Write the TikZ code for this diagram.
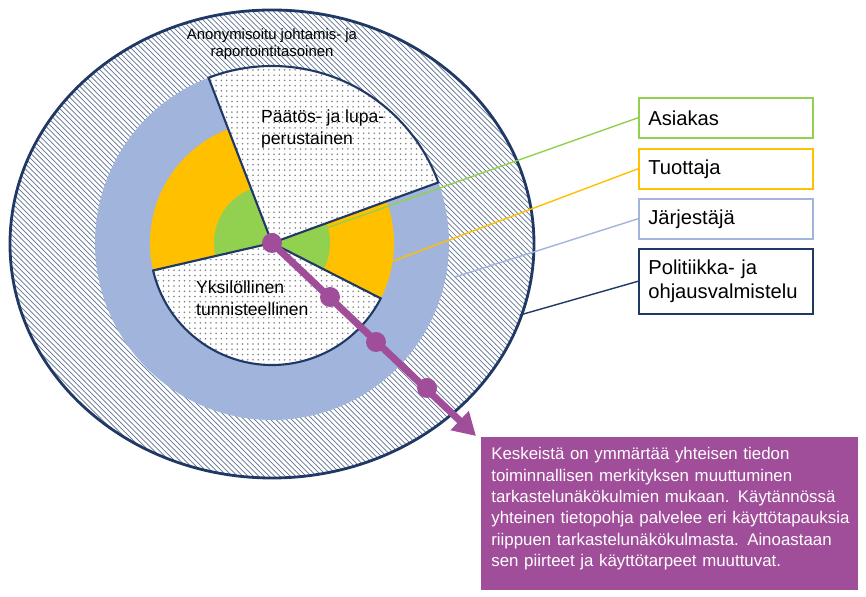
\documentclass[tikz,border=0pt]{standalone}
\usepackage{fontspec}
\setmainfont{Liberation Sans}
\usetikzlibrary{patterns,positioning,calc,arrows.meta}
\definecolor{navy}{HTML}{1F3864}
\definecolor{ringblue}{HTML}{A0B4DC}
\definecolor{gold}{HTML}{FFC000}
\definecolor{leafgreen}{HTML}{92D050}
\definecolor{plum}{HTML}{A04D9A}
\tikzset{
  legendbox/.style={draw, line width=0.9pt, fill=white, minimum width=3.48cm, minimum height=0.8cm,
    anchor=north west, align=left, text width=3.1cm, font=\fontsize{11.5}{14}\selectfont},
  dotsector/.style={draw=navy, line width=1.2pt, preaction={fill=white}, pattern=dots, pattern color=gray},
  stop/.style={circle, fill=plum, inner sep=0pt, minimum size=0.4cm},
}
\begin{document}
\begin{tikzpicture}[x=0.02cm,y=-0.02cm]
\useasboundingbox (0,0) rectangle (866,597);

% outer level
\draw[navy, line width=1.6pt, preaction={fill=white}, pattern=north west lines, pattern color=navy!70]
  (272,244) ellipse (262 and 234);

\begin{scope}[shift={(272,243)},x=0.02cm,y=0.02cm]
% rings
\fill[ringblue] (0,0) circle (177);
\fill[gold] (0,0) circle (122);
\fill[leafgreen] (0,0) circle (58);
% sectors
\draw[dotsector] (0,0) -- (111:177) arc (111:20:177) -- cycle;
\draw[dotsector] (0,0) -- (193:122) arc (193:333:122) -- cycle;
% anchor points for the legend lines
\coordinate (pgreen) at (35,8);
\coordinate (pgold) at (116,-20);
\coordinate (pblue) at (183,-34);
\coordinate (pnavy) at (248,-72);
\end{scope}

% labels
\node[align=center, font=\fontsize{8.5}{9.5}\selectfont] (toplabel) at (272,44) {Anonymisoitu johtamis- ja\\raportointitasoinen};
\node[align=left, anchor=north west, font=\fontsize{10}{12}\selectfont] (paatos) at (255,104) {Päätös- ja lupa-\\perustainen};
\node[align=left, anchor=north west, font=\fontsize{10}{12}\selectfont] (yksil) at (190,275) {Yksilöllinen\\tunnisteellinen};

% legend
\node[legendbox, draw=leafgreen] (asiakas) at (638,97) {Asiakas};
\node[legendbox, draw=gold] (tuottaja) at (638,148) {Tuottaja};
\node[legendbox, draw=ringblue] (jarj) at (638,198) {Järjestäjä};
\node[legendbox, draw=navy, minimum height=1.3cm] (polit) at (638,248) {Politiikka- ja\\ohjausvalmistelu};

\draw[leafgreen, line width=0.8pt] (asiakas.west) -- (pgreen);
\draw[gold, line width=0.8pt] (tuottaja.west) -- (pgold);
\draw[ringblue, line width=0.8pt] (jarj.west) -- (pblue);
\draw[navy, line width=0.8pt] (polit.west) -- (pnavy);

% perspective arrow
\coordinate (centre) at (272,243);
\coordinate (tip) at (476,436);
\draw[plum, line width=4pt, -{Triangle[length=0.45cm,width=0.5cm]}] (centre) -- (tip);
\node[stop] (s0) at (272,243) {};
\node[stop] (s1) at (330,297) {};
\node[stop] (s2) at (376,342) {};
\node[stop] (s3) at (427,388) {};

\fill[plum] (481,437) rectangle (858,590);
\node[text=white, anchor=north west, text width=7.2cm, align=left, inner sep=0pt,
  font=\fontsize{9.6}{12.2}\selectfont] (note) at (491,447)
  {Keskeistä on ymmärtää yhteisen tiedon\\toiminnallisen merkityksen muuttuminen\\tarkastelunäkökulmien mukaan. Käytännössä\\yhteinen tietopohja palvelee eri käyttötapauksia\\riippuen tarkastelunäkökulmasta. Ainoastaan\\sen piirteet ja käyttötarpeet muuttuvat.};
\end{tikzpicture}
\end{document}
